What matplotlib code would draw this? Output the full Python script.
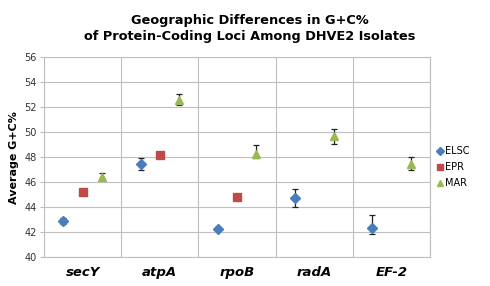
import matplotlib
matplotlib.use("Agg")
import matplotlib.pyplot as plt
from matplotlib.lines import Line2D
import numpy as np

categories = ["secY", "atpA", "rpoB", "radA", "EF-2"]
series = ["ELSC", "EPR", "MAR"]
# values (nan = missing)
elsc = [42.9, 47.45, 42.3, 44.75, 42.35]
elsc_lo = [0.25, 0.5, 0.15, 0.75, 0.45]
elsc_hi = [0.25, 0.5, 0.15, 0.75, 1.0]
epr = [45.25, 48.2, 44.85, np.nan, np.nan]
mar = [46.45, 52.6, 48.3, 49.7, 47.5]
mar_lo = [0.2, 0.4, 0.35, 0.6, 0.5]
mar_hi = [0.3, 0.45, 0.65, 0.6, 0.5]
yticks = [40, 42, 44, 46, 48, 50, 52, 54, 56]

colors = ["#4a7ebb", "#be4b48", "#98b954"]
markers = ["D", "s", "^"]
sizes = [5, 6, 6]

fig = plt.figure(figsize=(4.9, 2.86), dpi=100)
ax = fig.add_axes([0.0898, 0.1003, 0.7878, 0.6994])

x = np.arange(len(categories))
off = 0.25
grid_c = "#bfbfbf"
ax.errorbar(x - off, elsc, yerr=[elsc_lo, elsc_hi], fmt=markers[0], color=colors[0],
            ms=sizes[0], ecolor="#222222", elinewidth=0.9, capsize=2.5, capthick=0.9, zorder=3)
ax.plot(x, epr, markers[1], color=colors[1], ms=sizes[1], zorder=3)
ax.errorbar(x + off, mar, yerr=[mar_lo, mar_hi], fmt=markers[2], color=colors[2],
            ms=sizes[2], ecolor="#222222", elinewidth=0.9, capsize=2.5, capthick=0.9, zorder=3)

ax.set_xlim(-0.5, len(categories) - 0.5)
ax.set_ylim(40, 56)
ax.set_yticks(yticks)
ax.set_yticklabels([str(t) for t in yticks], fontsize=7, color="#333333")
ax.set_xticks(x)
ax.set_xticklabels(categories, fontsize=9.5, fontweight="bold", fontstyle="italic")
ax.tick_params(axis="x", length=0, pad=6)
ax.tick_params(axis="y", length=3, color=grid_c, pad=2)
for yv in yticks:
    ax.axhline(yv, color=grid_c, lw=0.8, zorder=1)
for xv in np.arange(-0.5, len(categories), 1.0):
    ax.axvline(xv, color=grid_c, lw=0.8, zorder=1)
for s in ax.spines.values():
    s.set_color(grid_c)
    s.set_linewidth(0.8)

ax.set_ylabel("Average G+C%", fontsize=8, fontweight="bold", labelpad=4)

fig.text(0.51, 0.95, "Geographic Differences in G+C%\nof Protein-Coding Loci Among DHVE2 Isolates",
         ha="center", va="top", fontsize=9.3, fontweight="bold", linespacing=1.3)

handles = [Line2D([], [], linestyle="none", marker=m, color=c, ms=s * 0.8)
           for m, c, s in zip(markers, colors, sizes)]
ax.legend(handles, series, loc="center left", bbox_to_anchor=(1.0, 0.45), frameon=False, fontsize=7,
          handlelength=0.6, handletextpad=0.2, labelspacing=0.6, borderaxespad=0.3)

fig.savefig("out.png", dpi=100)
